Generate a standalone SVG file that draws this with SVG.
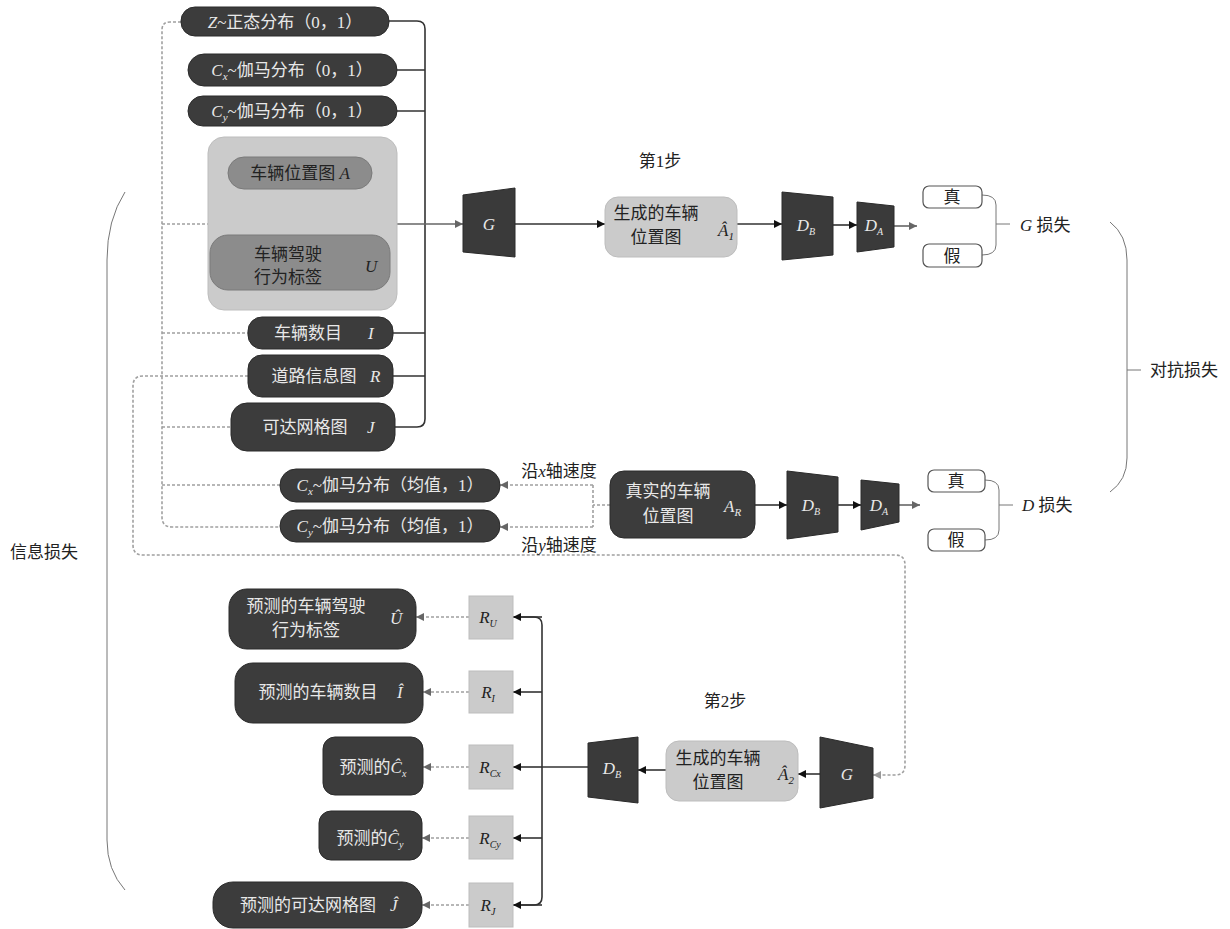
<svg xmlns="http://www.w3.org/2000/svg" width="1230" height="929" viewBox="0 0 1230 929">
<defs>
<style>
.t{font-family:"Liberation Serif","Noto Sans CJK SC",serif;font-size:17px;}
.w{fill:#e8e8e8;}
.k{fill:#222;}
.i{font-style:italic;}
.dark{fill:#3c3c3c;stroke:#2a2a2a;stroke-width:1;}
.light{fill:#cbcbcb;stroke:#bdbdbd;stroke-width:1;}
.mid{fill:#8c8c8c;stroke:#7a7a7a;stroke-width:1;}
.trap{fill:#3a3a3a;stroke:#2a2a2a;stroke-width:1;}
.wb{fill:#fff;stroke:#555;stroke-width:1.2;}
.ln{fill:none;stroke:#333;stroke-width:1.6;}
.gd{fill:none;stroke:#a0a0a0;stroke-width:1.6;stroke-dasharray:3 2;}
.gl{fill:none;stroke:#666;stroke-width:1.6;}
.br{fill:none;stroke:#777;stroke-width:1;}
</style>
<marker id="ab" viewBox="0 0 10 10" refX="10" refY="5" markerWidth="12" markerHeight="8" markerUnits="userSpaceOnUse" orient="auto"><path d="M0,0 L10,5 L0,10 z" fill="#111"/></marker>
<marker id="ag" viewBox="0 0 10 10" refX="10" refY="5" markerWidth="12" markerHeight="8" markerUnits="userSpaceOnUse" orient="auto"><path d="M0,0 L10,5 L0,10 z" fill="#666"/></marker>
<marker id="al" viewBox="0 0 10 10" refX="10" refY="5" markerWidth="12" markerHeight="8" markerUnits="userSpaceOnUse" orient="auto"><path d="M0,0 L10,5 L0,10 z" fill="#999"/></marker>
</defs>

<g id="connectors">
<!-- right solid bus -->
<path class="ln" d="M389,21 H417 Q425,21 425,29 V419 Q425,427 417,427 H395"/>
<path class="ln" d="M397,70 H425 M397,111 H425 M393,333 H425 M393,376 H425"/>
<path class="gl" d="M397,224 H463" marker-end="url(#ag)"/>
<!-- left dashed bus -->
<path class="gd" d="M181,22 H170 Q162,22 162,30 V517 Q162,527 172,527 H280"/>
<path class="gd" d="M162,224 H208 M162,333 H248 M162,427 H231 M162,485 H280"/>
<!-- road info loop -->
<path class="gd" d="M248,376 H143 Q133,376 133,386 V545 Q133,555 143,555 H895 Q905,555 905,565 V765 Q905,775 895,775 H873" marker-end="url(#al)"/>
<!-- real to Cx Cy -->
<path class="gd" d="M610,505 H593"/>
<path class="gd" d="M593,485 V527"/>
<path class="gd" d="M593,485 H500" marker-end="url(#ag)"/>
<path class="gd" d="M593,527 H500" marker-end="url(#ag)"/>
<!-- step 1 -->
<path class="ln" d="M515,224 H605" marker-end="url(#ab)"/>
<path class="ln" d="M737,224 H782" marker-end="url(#ab)"/>
<path class="ln" d="M833,225 H857" marker-end="url(#ab)"/>
<path class="gl" d="M894,226 H917" marker-end="url(#ag)"/>
<!-- real path -->
<path class="ln" d="M755,505 H787" marker-end="url(#ab)"/>
<path class="ln" d="M838,505 H861" marker-end="url(#ab)"/>
<path class="gl" d="M899,505 H920" marker-end="url(#ag)"/>
<!-- step 2 -->
<path class="ln" d="M820,774 H798" marker-end="url(#ab)"/>
<path class="ln" d="M666,770 H638" marker-end="url(#ab)"/>
<path class="ln" d="M588,767 H542"/>
<path class="ln" d="M513,617 H534 Q542,617 542,625 V897 Q542,905 534,905 H513"/>
<path class="ln" d="M542,617 H513" marker-end="url(#ab)"/>
<path class="ln" d="M542,692 H513" marker-end="url(#ab)"/>
<path class="ln" d="M542,767 H513" marker-end="url(#ab)"/>
<path class="ln" d="M542,838 H513" marker-end="url(#ab)"/>
<path class="ln" d="M542,905 H513" marker-end="url(#ab)"/>
<path class="gd" d="M469,617 H416" marker-end="url(#ag)"/>
<path class="gd" d="M469,692 H423" marker-end="url(#ag)"/>
<path class="gd" d="M469,767 H423" marker-end="url(#ag)"/>
<path class="gd" d="M469,838 H422" marker-end="url(#ag)"/>
<path class="gd" d="M469,905 H422" marker-end="url(#ag)"/>
<!-- brackets -->
<path class="br" d="M982,195 Q996,195 996,205 V245 Q996,255 982,255 M996,224 H1010"/>
<path class="br" d="M985,480 Q999,480 999,490 V530 Q999,540 985,540 M999,505 H1013"/>
<path class="br" d="M1110,222 Q1127,235 1127,260 V458 Q1127,480 1110,492 M1127,370 H1141"/>
<path class="br" d="M125,192 Q107,220 107,260 V840 Q107,870 125,890"/>
</g>

<g id="n-z"><rect class="dark" x="181" y="7" width="208" height="29" rx="14"/><text class="t w" x="285" y="28" text-anchor="middle"><tspan class="i">Z</tspan>~正态分布（0，1）</text></g>
<g id="n-cx"><rect class="dark" x="188" y="54" width="209" height="32" rx="16"/><text class="t w" x="292" y="76" text-anchor="middle"><tspan class="i">C</tspan><tspan class="i" font-size="11" dy="4">x</tspan><tspan dy="-4">~伽马分布（0，1）</tspan></text></g>
<g id="n-cy"><rect class="dark" x="188" y="96" width="209" height="30" rx="15"/><text class="t w" x="292" y="117" text-anchor="middle"><tspan class="i">C</tspan><tspan class="i" font-size="11" dy="4">y</tspan><tspan dy="-4">~伽马分布（0，1）</tspan></text></g>
<g id="n-group"><rect class="light" x="208" y="137" width="189" height="173" rx="16"/></g>
<g id="n-a"><rect class="mid" x="228" y="157" width="144" height="32" rx="16"/><text class="t k" x="300" y="179" text-anchor="middle">车辆位置图 <tspan class="i">A</tspan></text></g>
<g id="n-u"><rect class="mid" x="210" y="235" width="180" height="55" rx="18"/><text class="t k" x="288" y="260" text-anchor="middle">车辆驾驶</text><text class="t k" x="288" y="283" text-anchor="middle">行为标签</text><text class="t k i" x="365" y="272">U</text></g>
<g id="n-i"><rect class="dark" x="248" y="317" width="145" height="32" rx="14"/><text class="t w" x="308" y="339" text-anchor="middle">车辆数目</text><text class="t w i" x="368" y="339">I</text></g>
<g id="n-r"><rect class="dark" x="248" y="355" width="145" height="42" rx="14"/><text class="t w" x="314" y="382" text-anchor="middle">道路信息图</text><text class="t w i" x="370" y="382">R</text></g>
<g id="n-j"><rect class="dark" x="231" y="403" width="164" height="48" rx="16"/><text class="t w" x="305" y="433" text-anchor="middle">可达网格图</text><text class="t w i" x="367" y="433">J</text></g>
<g id="n-cxm"><rect class="dark" x="280" y="469" width="220" height="33" rx="16"/><text class="t w" x="390" y="491" text-anchor="middle"><tspan class="i">C</tspan><tspan class="i" font-size="11" dy="4">x</tspan><tspan dy="-4">~伽马分布（均值，1）</tspan></text></g>
<g id="n-cym"><rect class="dark" x="280" y="510" width="220" height="32" rx="16"/><text class="t w" x="390" y="532" text-anchor="middle"><tspan class="i">C</tspan><tspan class="i" font-size="11" dy="4">y</tspan><tspan dy="-4">~伽马分布（均值，1）</tspan></text></g>
<g id="l-vx"><text class="t k" x="559" y="477" text-anchor="middle">沿<tspan class="i">x</tspan>轴速度</text></g>
<g id="l-vy"><text class="t k" x="559" y="551" text-anchor="middle">沿<tspan class="i">y</tspan>轴速度</text></g>
<g id="n-real"><rect class="dark" x="610" y="471" width="145" height="67" rx="14"/><text class="t w" x="668" y="497" text-anchor="middle">真实的车辆</text><text class="t w" x="668" y="522" text-anchor="middle">位置图</text><text class="t w i" x="724" y="512">A<tspan font-size="11" dy="4">R</tspan></text></g>

<g id="l-step1"><text class="t k" x="660" y="167" text-anchor="middle">第1步</text></g>
<g id="n-g1"><polygon class="trap" points="463,195 515,188 515,257 463,252"/><text class="t w i" x="489" y="230" text-anchor="middle">G</text></g>
<g id="n-a1"><rect class="light" x="605" y="197" width="132" height="60" rx="13"/><text class="t k" x="656" y="219" text-anchor="middle">生成的车辆</text><text class="t k" x="656" y="243" text-anchor="middle">位置图</text><text class="t k i" x="718" y="236">Â<tspan font-size="11" dy="4">1</tspan></text></g>
<g id="n-db1"><polygon class="trap" points="782,192 833,197 833,255 782,260"/><text class="t w i" x="806" y="231" text-anchor="middle">D<tspan font-size="10" dy="4">B</tspan></text></g>
<g id="n-da1"><polygon class="trap" points="857,202 894,206 894,247 857,252"/><text class="t w i" x="874" y="231" text-anchor="middle">D<tspan font-size="10" dy="4">A</tspan></text></g>
<g id="n-db2"><polygon class="trap" points="787,471 838,477 838,532 787,539"/><text class="t w i" x="811" y="511" text-anchor="middle">D<tspan font-size="10" dy="4">B</tspan></text></g>
<g id="n-da2"><polygon class="trap" points="861,480 899,484 899,522 861,530"/><text class="t w i" x="879" y="511" text-anchor="middle">D<tspan font-size="10" dy="4">A</tspan></text></g>

<g id="n-t1"><rect class="wb" x="923" y="186" width="59" height="22" rx="6"/><text class="t k" x="952" y="203" text-anchor="middle">真</text></g>
<g id="n-f1"><rect class="wb" x="923" y="244" width="59" height="23" rx="6"/><text class="t k" x="952" y="262" text-anchor="middle">假</text></g>
<g id="n-t2"><rect class="wb" x="928" y="470" width="57" height="22" rx="6"/><text class="t k" x="956" y="487" text-anchor="middle">真</text></g>
<g id="n-f2"><rect class="wb" x="928" y="529" width="57" height="22" rx="6"/><text class="t k" x="956" y="546" text-anchor="middle">假</text></g>
<g id="l-gloss"><text class="t k" x="1020" y="231"><tspan class="i">G</tspan>  损失</text></g>
<g id="l-dloss"><text class="t k" x="1022" y="511"><tspan class="i">D</tspan>  损失</text></g>
<g id="l-adv"><text class="t k" x="1150" y="376">对抗损失</text></g>
<g id="l-info"><text class="t k" x="10" y="558">信息损失</text></g>

<g id="l-step2"><text class="t k" x="725" y="707" text-anchor="middle">第2步</text></g>
<g id="n-g2"><polygon class="trap" points="820,737 873,748 873,798 820,808"/><text class="t w i" x="847" y="780" text-anchor="middle">G</text></g>
<g id="n-a2"><rect class="light" x="666" y="741" width="132" height="60" rx="13"/><text class="t k" x="718" y="764" text-anchor="middle">生成的车辆</text><text class="t k" x="718" y="788" text-anchor="middle">位置图</text><text class="t k i" x="778" y="780">Â<tspan font-size="11" dy="4">2</tspan></text></g>
<g id="n-db3"><polygon class="trap" points="588,743 638,737 638,803 588,797"/><text class="t w i" x="612" y="774" text-anchor="middle">D<tspan font-size="10" dy="4">B</tspan></text></g>

<g id="n-ru"><rect class="light" x="469" y="596" width="44" height="43"/><text class="t k i" x="488" y="623" text-anchor="middle">R<tspan font-size="10" dy="4">U</tspan></text></g>
<g id="n-ri"><rect class="light" x="469" y="671" width="44" height="42"/><text class="t k i" x="488" y="698" text-anchor="middle">R<tspan font-size="10" dy="4">I</tspan></text></g>
<g id="n-rcx"><rect class="light" x="469" y="745" width="44" height="44"/><text class="t k i" x="490" y="773" text-anchor="middle">R<tspan font-size="10" dy="4">Cx</tspan></text></g>
<g id="n-rcy"><rect class="light" x="469" y="816" width="44" height="43"/><text class="t k i" x="490" y="844" text-anchor="middle">R<tspan font-size="10" dy="4">Cy</tspan></text></g>
<g id="n-rj"><rect class="light" x="469" y="883" width="44" height="44"/><text class="t k i" x="488" y="911" text-anchor="middle">R<tspan font-size="10" dy="4">J</tspan></text></g>

<g id="n-pu"><rect class="dark" x="229" y="589" width="187" height="60" rx="18"/><text class="t w" x="306" y="612" text-anchor="middle">预测的车辆驾驶</text><text class="t w" x="306" y="636" text-anchor="middle">行为标签</text><text class="t w i" x="390" y="624">Û</text></g>
<g id="n-pi"><rect class="dark" x="235" y="663" width="188" height="60" rx="18"/><text class="t w" x="318" y="698" text-anchor="middle">预测的车辆数目</text><text class="t w i" x="397" y="698">Î</text></g>
<g id="n-pcx"><rect class="dark" x="323" y="737" width="100" height="58" rx="12"/><text class="t w" x="373" y="773" text-anchor="middle">预测的<tspan class="i">Ĉ</tspan><tspan class="i" font-size="10" dy="4">x</tspan></text></g>
<g id="n-pcy"><rect class="dark" x="319" y="811" width="103" height="49" rx="12"/><text class="t w" x="370" y="844" text-anchor="middle">预测的<tspan class="i">Ĉ</tspan><tspan class="i" font-size="10" dy="4">y</tspan></text></g>
<g id="n-pj"><rect class="dark" x="213" y="882" width="209" height="46" rx="20"/><text class="t w" x="308" y="911" text-anchor="middle">预测的可达网格图</text><text class="t w i" x="390" y="911">Ĵ</text></g>
</svg>
